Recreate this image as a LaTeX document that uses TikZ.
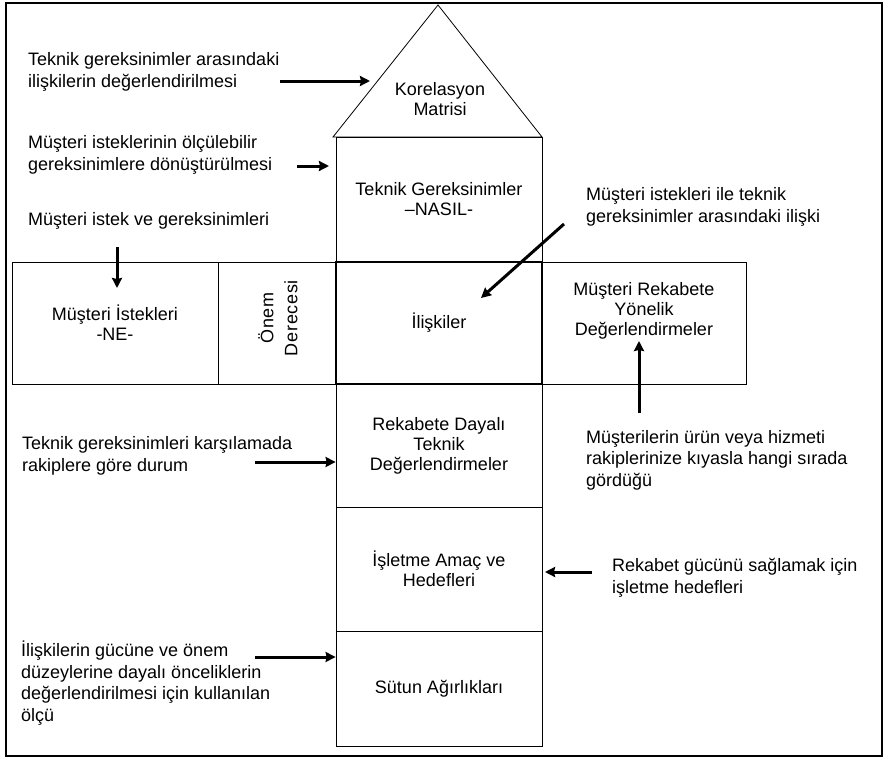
\documentclass[tikz,border=0pt]{standalone}
\usepackage{fontspec}
\setmainfont{Liberation Sans}
\usetikzlibrary{arrows.meta}
\begin{document}
\begin{tikzpicture}[x=1pt,y=-1pt,
  box/.style={draw, line width=0.8pt, inner sep=0pt, align=center, font=\fontsize{18}{20}\selectfont},
  bold box/.style={box, line width=1.6pt},
  lbl/.style={font=\fontsize{18}{21.5}\selectfont, align=left, anchor=west, inner sep=0pt},
  ctext/.style={font=\fontsize{18}{20}\selectfont, align=center, inner sep=0pt},
  arr/.style={-{Stealth[length=10pt,width=10pt,inset=1pt]}, line width=3pt}]
\useasboundingbox (0,0) rectangle (884,758);
\draw[line width=2.5pt] (6,3) rectangle (882,756);

% roof
\coordinate (apex) at (438,5);
\coordinate (bl) at (333,137);
\coordinate (br) at (542,137);
\draw[line width=0.8pt] (bl) -- (apex) -- (br) -- cycle;
\node[ctext] (kor) at (440,99) {Korelasyon\\Matrisi};

% column
\node[box, minimum width=206pt, minimum height=125pt] (tg) at (439,199.5) {Teknik Gereksinimler\\–NASIL-};
\node[box, minimum width=206pt, minimum height=123pt] (rd) at (439,445.5) {Rekabete Dayalı\\Teknik\\Değerlendirmeler};
\node[box, minimum width=206pt, minimum height=124pt] (ia) at (439,569) {İşletme Amaç ve\\Hedefleri};
\node[box, minimum width=206pt, minimum height=115pt] (sa) at (439,688.5) {Sütun Ağırlıkları};
% row
\node[box, minimum width=206pt, minimum height=122pt] (mi) at (115,323) {Müşteri İstekleri\\-NE-};
\node[box, minimum width=118pt, minimum height=122pt] (od) at (277,323) {};
\node[ctext, rotate=90, font=\fontsize{18}{24}\selectfont\addfontfeatures{LetterSpace=4}] (odt) at (278,318) {Önem\\Derecesi};
\node[box, minimum width=204pt, minimum height=122pt] (mr) at (644,323) {};
\node[ctext] (mrt) at (644,311) {Müşteri Rekabete\\Yönelik\\Değerlendirmeler};
\node[bold box, minimum width=206pt, minimum height=122pt] (il) at (439,323) {İlişkiler};

% labels
\node[lbl] (t1) at (28,72) {Teknik gereksinimler arasındaki\\ilişkilerin değerlendirilmesi};
\node[lbl] (t2) at (28,155) {Müşteri isteklerinin ölçülebilir\\gereksinimlere dönüştürülmesi};
\node[lbl] (t3) at (28,221) {Müşteri istek ve gereksinimleri};
\node[lbl] (t4) at (586,207) {Müşteri istekleri ile teknik\\gereksinimler arasındaki ilişki};
\node[lbl] (t5) at (22,456) {Teknik gereksinimleri karşılamada\\rakiplere göre durum};
\node[lbl] (t6) at (586,460) {Müşterilerin ürün veya hizmeti\\rakiplerinize kıyasla hangi sırada\\gördüğü};
\node[lbl] (t7) at (612,578) {Rekabet gücünü sağlamak için\\işletme hedefleri};
\node[lbl] (t8) at (21,683) {İlişkilerin gücüne ve önem\\düzeylerine dayalı önceliklerin\\değerlendirilmesi için kullanılan\\ölçü};

% arrows
\coordinate (a1s) at (280,81);  \coordinate (a1e) at (370,81);
\coordinate (a2s) at (297,166); \coordinate (a2e) at (329,166);
\coordinate (a3s) at (117,247); \coordinate (a3e) at (117,288);
\coordinate (a4s) at (564,224); \coordinate (a4e) at (481,298);
\coordinate (a5s) at (255,462); \coordinate (a5e) at (tg.west |- 0,462);
\coordinate (a6s) at (639,413); \coordinate (a6e) at (639,341);
\coordinate (a7s) at (592,572); \coordinate (a7e) at (545,572);
\coordinate (a8s) at (255,657); \coordinate (a8e) at (tg.west |- 0,657);
\draw[arr] (a1s) -- (a1e);
\draw[arr] (a2s) -- (a2e);
\draw[arr] (a3s) -- (a3e);
\draw[arr] (a4s) -- (a4e);
\draw[arr] (a5s) -- (a5e);
\draw[arr] (a6s) -- (a6e);
\draw[arr] (a7s) -- (a7e);
\draw[arr] (a8s) -- (a8e);
\end{tikzpicture}
\end{document}
